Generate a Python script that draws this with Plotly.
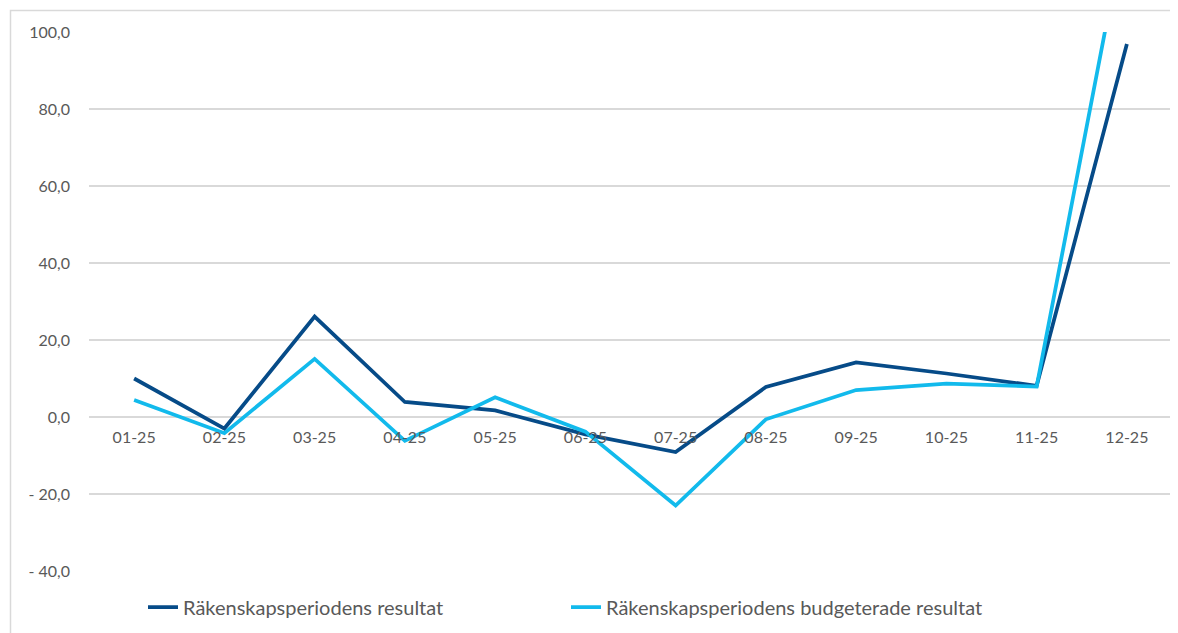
import plotly.graph_objects as go

months = ["01-25", "02-25", "03-25", "04-25", "05-25", "06-25",
          "07-25", "08-25", "09-25", "10-25", "11-25", "12-25"]
resultat = [10.0, -3.0, 26.1, 3.9, 1.7, -4.5, -9.1, 7.8, 14.2, 11.3, 8.1, 96.9]
budget = [4.4, -4.2, 15.1, -6.2, 5.1, -3.8, -23.0, -0.6, 7.0, 8.7, 7.9, 129.7]

ytick_vals = [-40, -20, 0, 20, 40, 60, 80, 100]
ytick_text = ["- 40,0", "- 20,0", "0,0", "20,0", "40,0", "60,0", "80,0", "100,0"]

name_res = "Räkenskapsperiodens resultat"
name_bud = "Räkenskapsperiodens budgeterade resultat"

DARK = "#064B88"
LIGHT = "#12BAEC"
GREY = "#595959"
GRID = "#D9D9D9"
FONT = "Lato, 'Open Sans', sans-serif"

fig = go.Figure()
fig.add_trace(go.Scatter(x=months, y=resultat, name=name_res, mode="lines",
                         line=dict(color=DARK, width=3.75)))
fig.add_trace(go.Scatter(x=months, y=budget, name=name_bud, mode="lines",
                         line=dict(color=LIGHT, width=3.75)))

W, H = 1178, 633
L, R, T, B = 81, 14, 24, 70
pw, ph = W - L - R, H - T - B

def px_x(p):
    return (p - L) / pw

def px_y(p):
    return (H - B - p) / ph

fig.update_layout(
    width=W, height=H,
    margin=dict(l=L, r=R, t=T, b=B, pad=0),
    paper_bgcolor="white", plot_bgcolor="white",
    font=dict(family=FONT, color=GREY),
    showlegend=True,
    legend=dict(orientation="h", x=px_x(135), y=px_y(599), xanchor="left", yanchor="middle",
                font=dict(size=20, color=GREY), entrywidth=378, entrywidthmode="pixels",
                bgcolor="rgba(0,0,0,0)"),
    xaxis=dict(type="category", range=[-0.5, 11.5], anchor="free",
               position=(0 - (-40)) / 140,
               showgrid=False, showline=False, zeroline=False, ticks="",
               tickfont=dict(size=16, color=GREY), ticklabelstandoff=9),
    yaxis=dict(range=[-40, 100], tickvals=ytick_vals, ticktext=ytick_text,
               showgrid=True, gridcolor=GRID, gridwidth=1.5, zeroline=False,
               showline=False, ticks="", tickfont=dict(size=16, color=GREY),
               ticklabelstandoff=18),
    shapes=[dict(type="rect", xref="paper", yref="paper",
                 x0=px_x(2.5), x1=px_x(1200), y0=px_y(660), y1=px_y(2.5),
                 line=dict(color=GRID, width=1.5), fillcolor="rgba(0,0,0,0)", layer="below")],
)

fig.write_html("out.html")
